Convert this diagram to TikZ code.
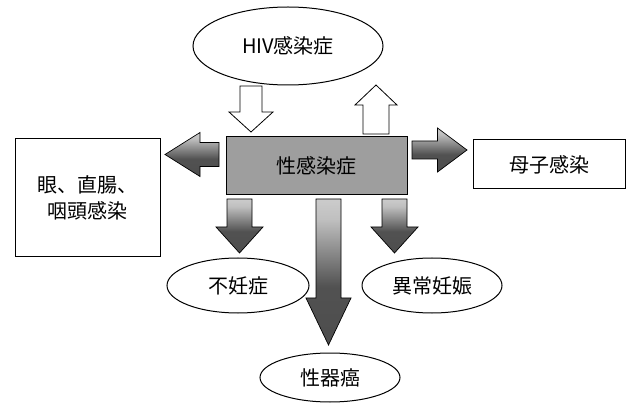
\documentclass[tikz,border=0pt]{standalone}
\usepackage{fontspec}
\setmainfont{Noto Sans CJK JP}
\usetikzlibrary{shapes.geometric}
\pgfdeclareverticalshading{arrowshade}{100bp}{color(0bp)=(black!72); color(45bp)=(black!68); color(68bp)=(black!25); color(100bp)=(black!3)}
\tikzset{
  lbl/.style={font=\fontsize{20}{26}\selectfont},
  oval/.style={draw, line width=1pt, ellipse, inner sep=0pt, lbl},
  sqbox/.style={draw, line width=1pt, inner sep=0pt, lbl},
  dark/.style={draw, line width=0.7pt, shading=arrowshade},
  hollow/.style={draw, line width=0.8pt, fill=white},
}
% \arrowpoly{cx}{ytop}{yhead}{ytip}{shafthalf}{headhalf}
\newcommand{\arrowpoly}[6]{(#1-#5,#2) -- (#1+#5,#2) -- (#1+#5,#3) -- (#1+#6,#3) -- (#1,#4) -- (#1-#6,#3) -- (#1-#5,#3) -- cycle}
\begin{document}
\begin{tikzpicture}[x=1pt,y=-1pt]
\useasboundingbox (0,0) rectangle (629,403);
% nodes
\node[oval, minimum width=190pt, minimum height=78pt] (hiv) at (288,46) {HIV感染症};
\node[sqbox, fill=black!38, minimum width=181pt, minimum height=58pt] (std) at (316.5,166) {性感染症};
\node[sqbox, minimum width=145pt, minimum height=118pt, align=center] (eye) at (87.5,198) {眼、直腸、\\咽頭感染};
\node[sqbox, minimum width=152pt, minimum height=49pt] (mtc) at (549,164.5) {母子感染};
\node[oval, minimum width=142pt, minimum height=55pt] (inf) at (238,285.5) {不妊症};
\node[oval, minimum width=140pt, minimum height=55pt] (ect) at (432,285.5) {異常妊娠};
\node[oval, minimum width=140pt, minimum height=49pt] (can) at (330,377.5) {性器癌};
% white arrows
\draw[hollow] \arrowpoly{251}{86}{112}{132}{11}{22};
\draw[hollow] \arrowpoly{376}{134}{105}{85}{13}{21};
% dark down arrows
\draw[dark] \arrowpoly{239.5}{199}{227}{253}{12.5}{23.5};
\draw[dark] \arrowpoly{328.5}{199}{298}{345}{12.5}{22.5};
\draw[dark] \arrowpoly{394.5}{199}{227}{253}{12.5}{23.5};
% left arrow
\begin{scope}[shift={(192,154.5)}, rotate=-90]
\draw[dark] \arrowpoly{0}{-27}{-8}{27}{12}{22};
\end{scope}
% right arrow
\begin{scope}[shift={(439.5,150)}, rotate=90]
\draw[dark] \arrowpoly{0}{-27.5}{-2}{27.5}{9}{22};
\end{scope}
\end{tikzpicture}
\end{document}
